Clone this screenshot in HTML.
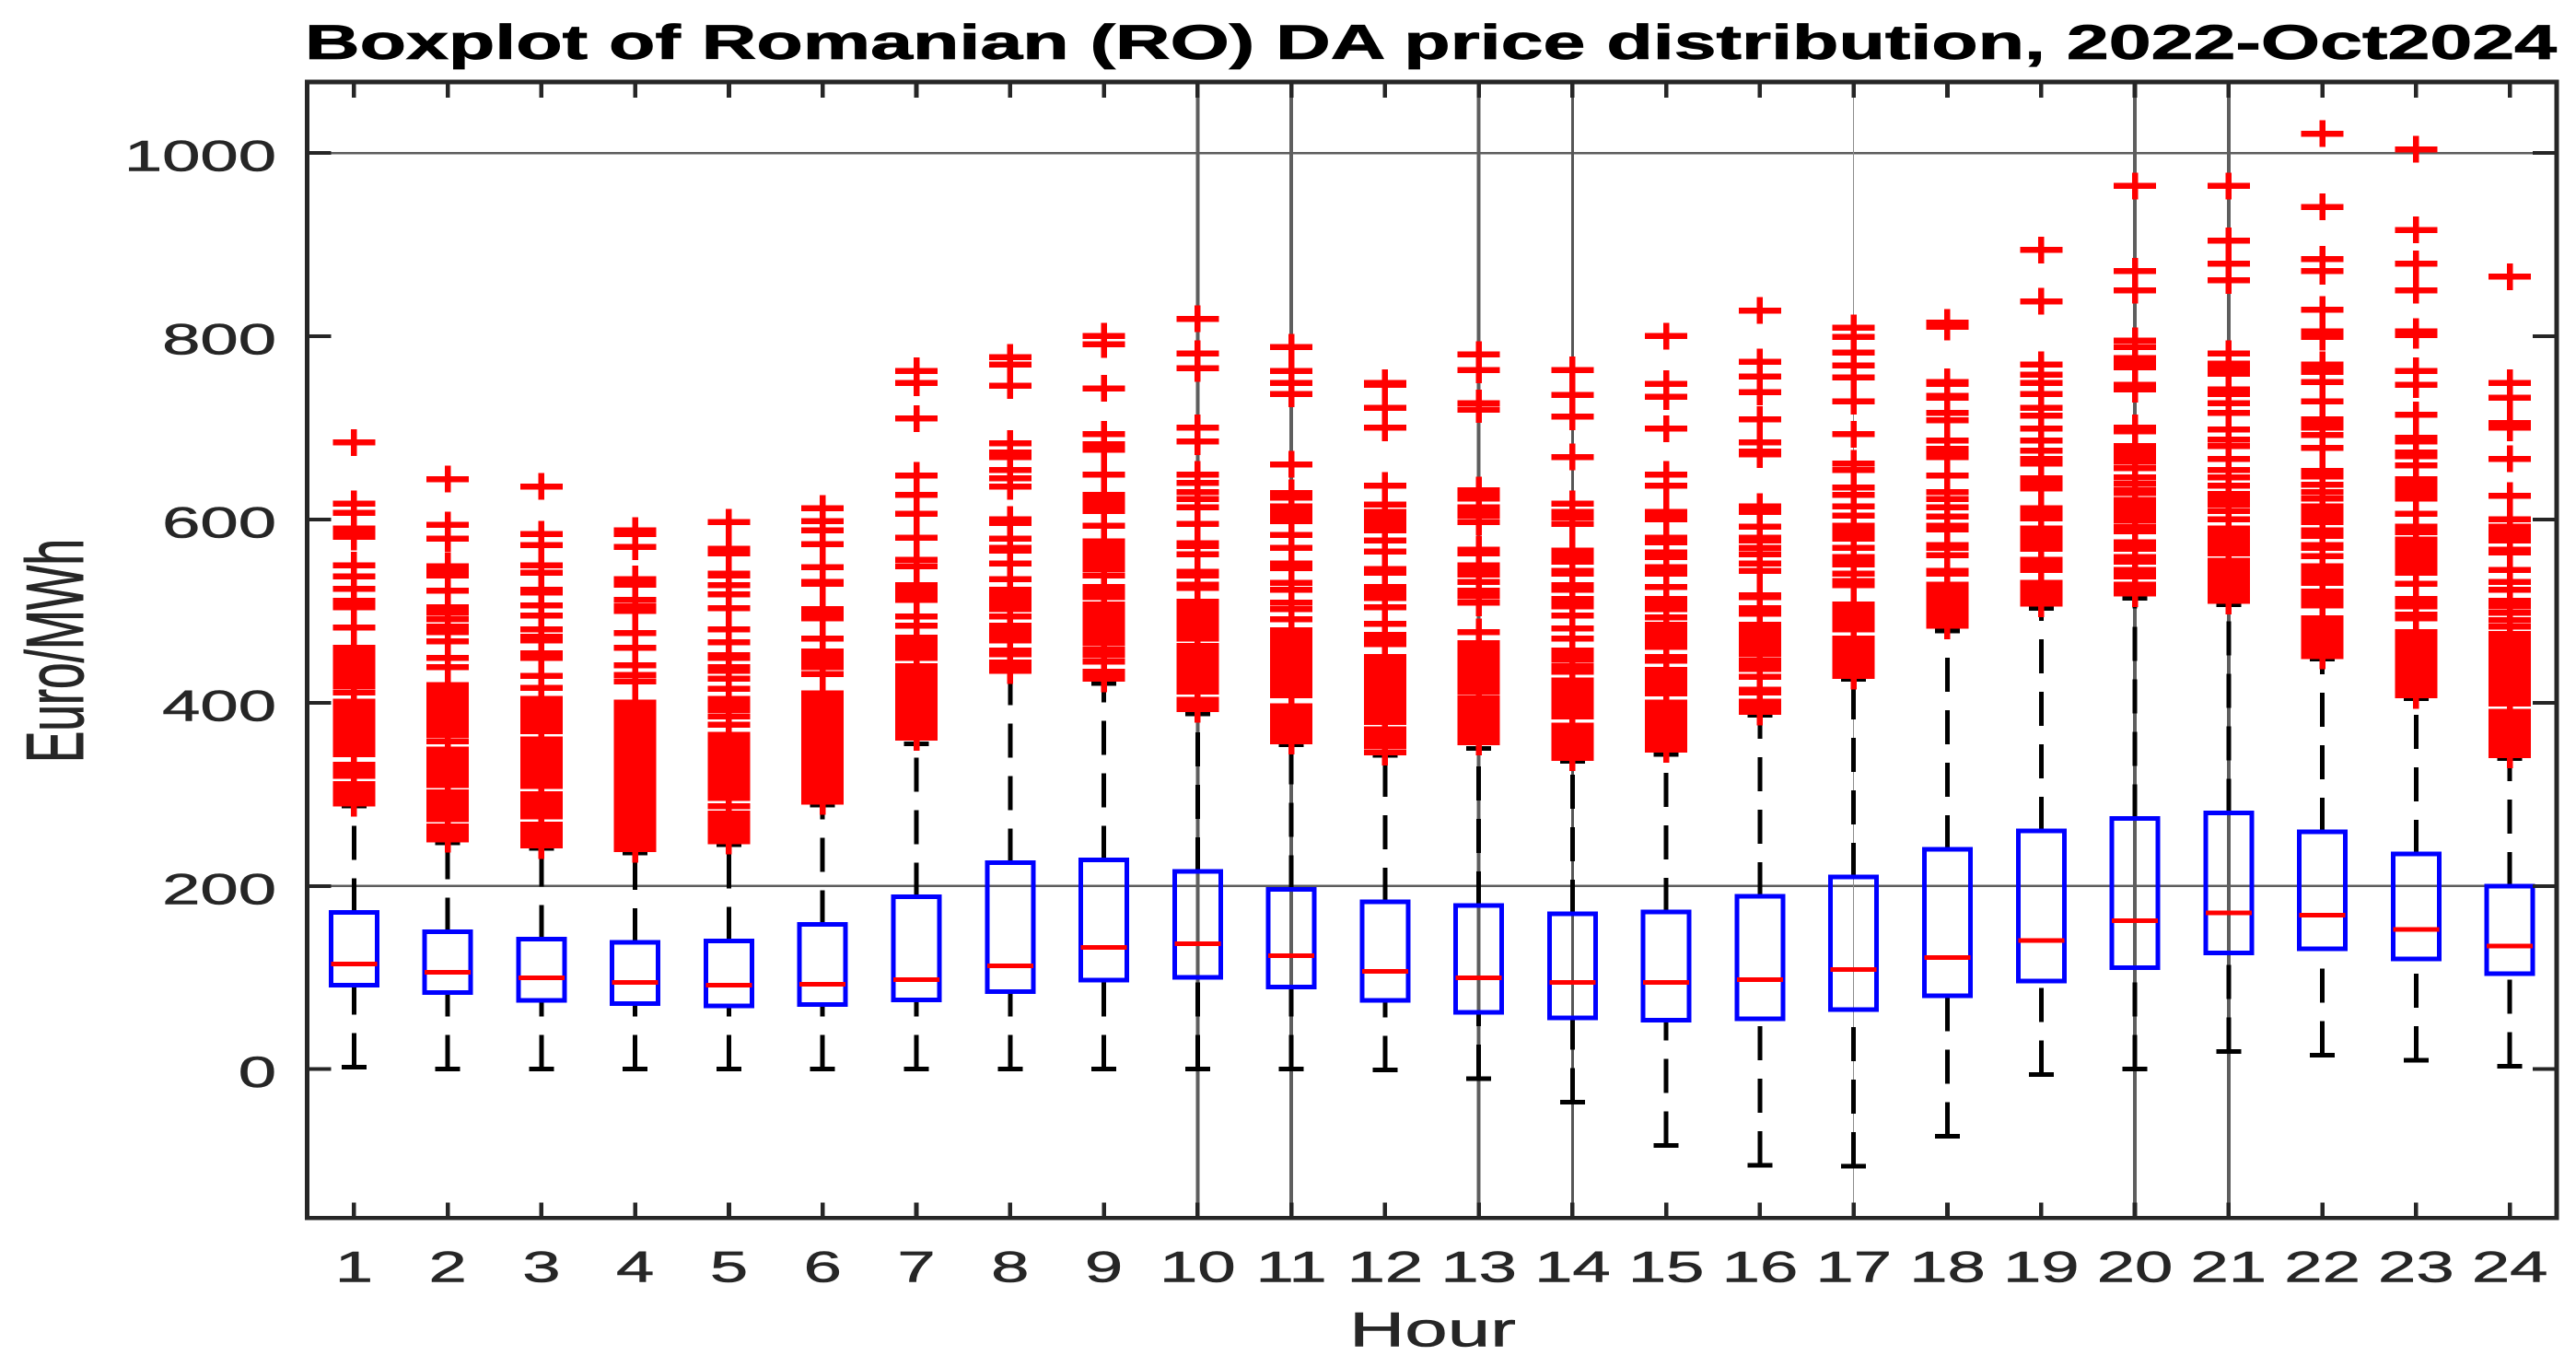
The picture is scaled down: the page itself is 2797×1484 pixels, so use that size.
<!DOCTYPE html>
<html lang="en">
<head>
<meta charset="utf-8">
<title>Boxplot of Romanian (RO) DA price distribution, 2022-Oct2024</title>
<style>
html,body{margin:0;padding:0;background:#fff;}
svg{display:block;}
text{font-family:"Liberation Sans",sans-serif;fill:#262626;stroke:#262626;stroke-width:0.6px;}
</style>
</head>
<body>
<svg id="chart" xmlns="http://www.w3.org/2000/svg" width="2797" height="1484" viewBox="0 0 2797 1484">
  <rect x="0" y="0" width="2797" height="1484" fill="#fff"/>
  <g id="grid"></g>
  <g id="whiskers"></g>
  <g id="boxes"></g>
  <g id="outliers"></g>
  <g id="axes">
    <rect x="333.5" y="89" width="2442.5" height="1233.3" fill="none" stroke="#262626" stroke-width="4.6" shape-rendering="crispEdges"/>
  </g>
  <g id="ticks"></g>
  <text x="331" y="64" font-size="53" font-weight="700" style="fill:#000;stroke:#000;stroke-width:0.8px" textLength="2445" lengthAdjust="spacingAndGlyphs">Boxplot of Romanian (RO) DA price distribution, 2022-Oct2024</text>
  <text x="1465" y="1461.7" font-size="53" textLength="181" lengthAdjust="spacingAndGlyphs">Hour</text>
  <text transform="translate(90,828) scale(1.67,1) rotate(-90)" font-size="53" textLength="243" lengthAdjust="spacingAndGlyphs">Euro/MWh</text>
</svg>
<script>
const hours = [1,2,3,4,5,6,7,8,9,10,11,12,13,14,15,16,17,18,19,20,21,22,23,24];
const yTicks = [0,200,400,600,800,1000];
const horizontalGrid = [200,1000];
const verticalGridHours = [10,11,13,14,17,20,21];
const verticalGridWidths = [4,4,4,3,1,4,4];
const q1 = [91.5,83.5,75,71.5,69,70.5,75.8,84.5,97.3,100,89.6,75,62,56,53.7,55,65,80,96.3,111,126.7,131.4,120.4,104.3];
const medians = [115,105.6,99.6,94.6,91.6,92.9,97.9,113,133,136.8,123.7,107,99.6,94.6,94.6,97.6,108.6,122,140.5,162,170.6,168.2,152.6,134.5];
const q3 = [171,150,142.2,138.5,140,158,188,225.2,228.2,216,196.4,182.7,178.6,169.6,171.6,188.7,210,240,260,273.8,279.8,259,235,200];
const lowerWhisker = [2,0.4,0.4,0.4,0.4,0.4,0,0.4,0.4,0.4,0,-0.6,-10.3,-35.8,-83,-105,-106,-73,-6,0.4,19.5,15.5,9.8,3.4];
const upperWhisker = [287,247,241,236,245,288,355,436,421,387.7,353.9,342.5,349.9,335.8,343.5,386,425.3,478,503,514,507,447.4,404.5,339];
const outliers1 = [684,617,607,590,585,581,550,538,524,511,507,504,482,460,454,448,442,437,430,424,418,411,401,395,389,383,377,371,365,359,353,348,344,332,326,320,311,305,299,293,290];
const outliers2 = [644,594,579,549,544,539,522,504,498,491,483,477,467,449,439,419,413,407,401,395,389,383,377,371,365,358,349,343,337,331,325,319,313,310,302,296,290,284,278,273,265,259,254,251];
const outliers3 = [636,584,572,550,542,523,520,506,495,480,472,468,454,449,429,416,404,398,392,386,380,374,369,360,354,348,342,336,330,324,318,312,309,300,294,288,282,276,267,261,255,249,244];
const outliers4 = [588,584,570,535,529,512,505,500,476,460,441,430,423,400,394,388,382,376,370,364,358,352,346,340,334,328,322,316,310,304,298,292,286,280,274,268,262,256,250,244,240];
const outliers5 = [597,568,563,541,539,528,518,503,480,466,452,449,439,435,426,415,404,398,392,385,376,365,359,353,347,341,335,329,323,317,311,305,299,296,287,279,273,267,261,255,249];
const outliers6 = [612,598,588,573,548,532,530,502,496,492,470,456,450,444,439,431,410,404,398,392,386,380,374,368,362,356,350,344,338,332,326,320,314,308,302,296,292];
const outliers7 = [762,749,710,648,627,606,580,556,549,528,522,516,512,494,484,471,465,459,453,449,440,434,428,422,416,410,404,398,392,386,380,374,368,362];
const outliers8 = [777,769,746,683,673,668,654,645,636,600,596,579,569,566,552,535,523,517,511,505,502,494,484,478,472,468,457,453,444,438,435];
const outliers9 = [800,791,743,693,682,676,649,627,620,614,609,593,576,570,564,558,552,546,539,526,520,515,507,501,495,489,483,477,471,465,458,452,445,434,429,426];
const outliers10 = [819,781,765,700,685,649,640,630,622,613,595,574,571,562,543,539,529,525,510,504,498,492,486,480,474,470,462,456,450,444,438,432,426,420,414,412,403,398,393];
const outliers11 = [788,762,749,737,660,629,624,614,608,603,598,583,569,552,547,531,523,509,502,491,479,473,467,461,455,449,443,438,431,425,419,413,408,396,390,384,378,372,366,360,358];
const outliers12 = [749,747,722,700,637,616,608,602,596,590,588,577,565,546,542,526,520,514,504,486,474,468,464,450,444,438,432,426,420,414,408,402,396,390,384,379,371,365,359,353,346];
const outliers13 = [780,763,727,720,632,626,623,613,608,604,597,567,563,550,545,540,532,522,516,509,477,465,459,453,447,441,435,429,423,417,412,405,399,393,387,381,375,369,363,357];
const outliers14 = [763,736,712,668,617,608,602,595,566,560,554,544,541,528,523,513,509,505,495,481,470,457,452,447,440,434,424,418,412,406,400,394,388,385,375,369,363,357,351,345,340];
const outliers15 = [800,748,734,699,649,637,608,604,600,580,575,564,559,548,544,541,526,513,507,502,493,485,479,473,467,461,450,446,436,430,424,418,412,410,400,394,388,382,376,370,364,358,352,349];
const outliers16 = [828,772,756,739,709,684,674,671,614,608,592,580,577,569,562,552,544,517,515,503,497,485,479,473,467,461,455,453,446,440,437,428,414,411,401,395,390];
const outliers17 = [809,799,782,768,755,729,693,661,654,635,627,614,604,593,587,582,579,569,559,554,551,541,533,528,507,501,495,489,483,480,470,464,458,452,446,440,434,429];
const outliers18 = [815,810,750,748,735,733,716,708,686,677,672,668,648,630,622,613,603,593,589,572,569,561,544,541,529,523,517,511,505,499,493,487,484];
const outliers19 = [894,838,769,758,749,737,722,713,699,686,675,666,661,645,640,634,612,606,601,590,584,578,572,568,556,550,545,531,525,519,513,508];
const outliers20 = [964,871,850,795,788,776,771,766,747,742,700,696,680,674,668,663,656,646,639,632,629,621,615,609,603,599,592,587,575,570,568,559,554,545,541,538,529,524,519];
const outliers21 = [964,904,879,861,781,770,764,759,742,737,727,716,698,687,680,666,654,646,637,628,622,616,609,600,590,584,578,572,566,563,555,549,543,537,531,525,519,513,511];
const outliers22 = [1021,941,884,871,829,805,799,769,765,761,750,729,709,703,700,692,678,653,647,638,630,623,614,608,602,597,588,582,572,569,560,549,543,537,531,521,515,509,506,492,486,480,474,468,462,456,451];
const outliers23 = [1004,916,879,850,805,801,762,747,714,689,685,673,669,659,644,638,632,626,623,606,592,586,578,572,566,560,554,548,542,530,513,509,505,496,492,477,471,465,459,453,447,441,435,429,423,417,411,408];
const outliers24 = [865,749,733,705,700,666,626,600,592,586,580,577,567,564,545,532,523,511,505,498,490,483,475,469,463,457,451,445,439,436,429,423,417,411,405,399,390,384,378,372,366,360,354,348,343];
const outliersByHour = [outliers1,outliers2,outliers3,outliers4,outliers5,outliers6,outliers7,outliers8,outliers9,outliers10,outliers11,outliers12,outliers13,outliers14,outliers15,outliers16,outliers17,outliers18,outliers19,outliers20,outliers21,outliers22,outliers23,outliers24];

const NS = 'http://www.w3.org/2000/svg';
const plotLeft = 333.5, plotRight = 2776, plotTop = 89, plotBottom = 1322.3;
const xStep = (plotRight - plotLeft) / 24;
function xScale(h){ return plotLeft + xStep * (h - 0.5); }
function yScale(v){ return 1160.7 - 0.9947 * v; }
function makeLine(parent, x1, y1, x2, y2, color, width){
  const el = document.createElementNS(NS, 'line');
  el.setAttribute('x1', x1);
  el.setAttribute('y1', y1);
  el.setAttribute('x2', x2);
  el.setAttribute('y2', y2);
  el.setAttribute('stroke', color);
  el.setAttribute('stroke-width', width);
  el.setAttribute('shape-rendering', 'crispEdges');
  parent.appendChild(el);
  return el;
}
const gridG = document.getElementById('grid');
const whiskerG = document.getElementById('whiskers');
const boxG = document.getElementById('boxes');
const outlierG = document.getElementById('outliers');
const tickG = document.getElementById('ticks');

horizontalGrid.forEach(function(v){
  const el = makeLine(gridG, plotLeft, yScale(v), plotRight, yScale(v), '#5c5c5c', 2.5);
  
  
});
verticalGridHours.forEach(function(h, i){
  const w = verticalGridWidths[i];
  const color = w > 3 ? '#5e5e5e' : (w > 1 ? '#565656' : '#8c8c8c');
  const el = makeLine(gridG, xScale(h), plotTop, xScale(h), plotBottom, color, w);
  
  
});

const boxHalf = 25, capHalf = 13.5, plusHalfW = 23, plusHalfH = 14.5;
hours.forEach(function(h, i){
  const x = xScale(h);
  const up = makeLine(whiskerG, x, yScale(q3[i]), x, yScale(upperWhisker[i]), '#000', 5);
  up.setAttribute('stroke-dasharray', '37 20');
  
  
  const low = makeLine(whiskerG, x, yScale(lowerWhisker[i]), x, yScale(q1[i]), '#000', 5);
  low.setAttribute('stroke-dasharray', '37 20');
  
  
  const capU = makeLine(whiskerG, x - capHalf, yScale(upperWhisker[i]), x + capHalf, yScale(upperWhisker[i]), '#000', 5);
  
  
  const capL = makeLine(whiskerG, x - capHalf, yScale(lowerWhisker[i]), x + capHalf, yScale(lowerWhisker[i]), '#000', 5);
  
  

  const box = document.createElementNS(NS, 'rect');
  box.setAttribute('x', x - boxHalf);
  box.setAttribute('y', yScale(q3[i]));
  box.setAttribute('width', boxHalf * 2);
  box.setAttribute('height', yScale(q1[i]) - yScale(q3[i]));
  box.setAttribute('fill', 'none');
  box.setAttribute('stroke', '#0000ff');
  box.setAttribute('stroke-width', 5);
  box.setAttribute('shape-rendering', 'crispEdges');
  
  
  boxG.appendChild(box);

  const med = makeLine(boxG, x - boxHalf, yScale(medians[i]), x + boxHalf, yScale(medians[i]), '#ff0000', 5);
  
  

  outliersByHour[i].forEach(function(v){
    const y = yScale(v);
    const p = document.createElementNS(NS, 'path');
    p.setAttribute('d', 'M' + (x - plusHalfW) + ' ' + y + 'H' + (x + plusHalfW) + 'M' + x + ' ' + (y - plusHalfH) + 'V' + (y + plusHalfH));
    p.setAttribute('stroke', '#ff0000');
    p.setAttribute('stroke-width', 6.5);
    p.setAttribute('fill', 'none');
    p.setAttribute('shape-rendering', 'crispEdges');
    
    
    outlierG.appendChild(p);
  });

  const t1 = makeLine(tickG, x, plotTop, x, plotTop + 17, '#262626', 4.6);
  
  
  const t2 = makeLine(tickG, x, plotBottom, x, plotBottom - 17, '#262626', 4.6);
  
  

  const lab = document.createElementNS(NS, 'text');
  lab.setAttribute('transform', 'translate(' + x + ',1391.7) scale(1.58,1)');
  lab.setAttribute('text-anchor', 'middle');
  lab.setAttribute('font-size', '47');
  
  
  lab.textContent = String(h);
  tickG.appendChild(lab);
});

yTicks.forEach(function(v){
  const y = yScale(v);
  const t1 = makeLine(tickG, plotLeft, y, plotLeft + 26, y, '#262626', 4);
  
  
  const t2 = makeLine(tickG, plotRight, y, plotRight - 26, y, '#262626', 4);
  
  
  const lab = document.createElementNS(NS, 'text');
  lab.setAttribute('transform', 'translate(300,' + (y + 19.5) + ') scale(1.58,1)');
  lab.setAttribute('text-anchor', 'end');
  lab.setAttribute('font-size', '47');
  
  
  lab.textContent = String(v);
  tickG.appendChild(lab);
});
</script>
</body>
</html>
